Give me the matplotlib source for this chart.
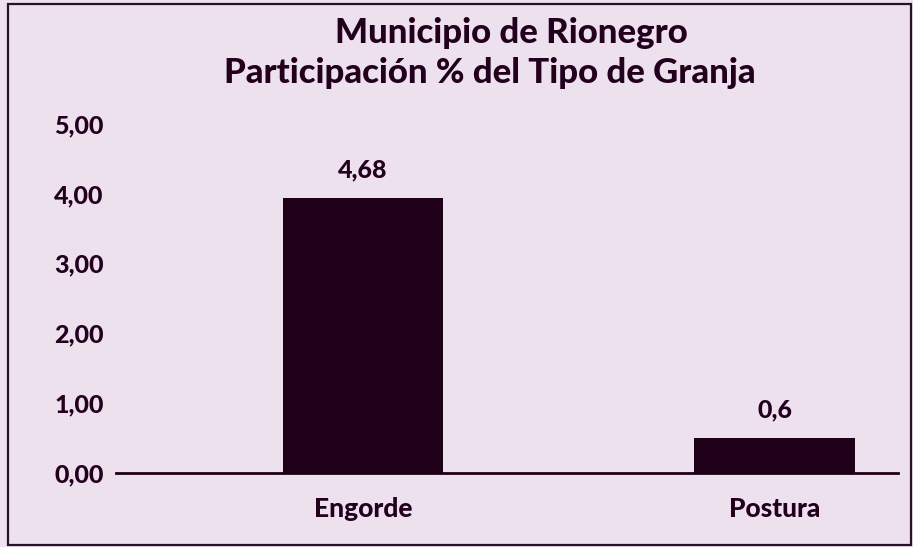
import matplotlib
matplotlib.use("Agg")
import matplotlib.pyplot as plt
from matplotlib.patches import Rectangle

# Participación % por tipo de granja
categorias = ["Engorde", "Postura"]
valores = [4.68, 0.6]
etiquetas_valor = ["4,68", "0,6"]
etiquetas_y = ["0,00", "1,00", "2,00", "3,00", "4,00", "5,00"]
titulo = ["Municipio de Rionegro", "Participación % del Tipo de Granja"]

FONDO = "#EDE1EE"
BARRA = "#1F0019"
TEXTO = "#22001E"
PASO_Y = 1.19  # separación de las etiquetas del eje y, en unidades de datos
PESO = 900

plt.rcParams["font.family"] = ["Lato", "DejaVu Sans"]

fig = plt.figure(figsize=(9.13, 5.47), dpi=100, facecolor=FONDO)
fig.patches.append(Rectangle((8 / 913, 2 / 547), 903 / 913, 541 / 547,
                             transform=fig.transFigure, fill=False,
                             edgecolor="#2A1028", linewidth=1.6))

ax = fig.add_axes([116 / 913, 74 / 547, 782 / 913, 373 / 547])
ax.set_facecolor(FONDO)

x = range(len(categorias))
ax.bar(x, valores, width=0.39, color=BARRA)
for xi, v, lbl in zip(x, valores, etiquetas_valor):
    ax.annotate(lbl, (xi, v), xytext=(0, 12), textcoords="offset points",
                ha="center", va="bottom", fontsize=18, color=TEXTO,
                fontweight=PESO)

ax.set_xlim(-0.6, 1.3)
ax.set_ylim(0, 6.35)
ax.set_xticks(list(x))
ax.set_xticklabels(categorias, fontsize=19, color=TEXTO, fontweight=PESO)
ax.set_yticks([i * PASO_Y for i in range(len(etiquetas_y))])
ax.set_yticklabels(etiquetas_y, fontsize=18, color=TEXTO, fontweight=PESO)
ax.tick_params(axis="both", length=0)
ax.tick_params(axis="x", pad=17)
ax.tick_params(axis="y", pad=9)

for lado in ["top", "right", "left"]:
    ax.spines[lado].set_visible(False)
ax.spines["bottom"].set_color(BARRA)
ax.spines["bottom"].set_linewidth(2)

fig.text(511 / 913, 1 - 33 / 547, titulo[0], ha="center", va="center",
         fontsize=25, color=TEXTO, fontweight=PESO)
fig.text(490 / 913, 1 - 73 / 547, titulo[1], ha="center", va="center",
         fontsize=25, color=TEXTO, fontweight=PESO)

fig.savefig("out.png", dpi=100, facecolor=FONDO)
